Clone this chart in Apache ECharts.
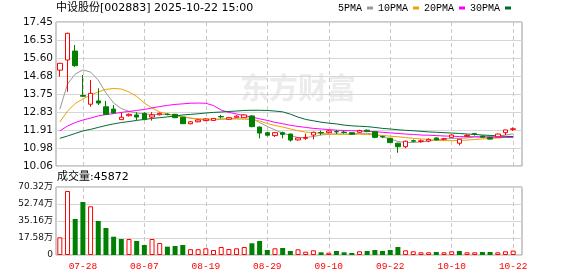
<!DOCTYPE html>
<html><head><meta charset="utf-8">
<script src="https://cdn.jsdelivr.net/npm/echarts@6/dist/echarts.min.js"></script>
<style>html,body{margin:0;padding:0;background:#fff}#c{width:578px;height:276px}</style>
</head><body><div id="c"></div>
<script>
const dates = ['07-23','07-24','07-25','07-28','07-29','07-30','07-31','08-01','08-04','08-05','08-06','08-07','08-08','08-11','08-12','08-13','08-14','08-15','08-18','08-19','08-20','08-21','08-22','08-25','08-26','08-27','08-28','08-29','09-01','09-02','09-03','09-04','09-05','09-08','09-09','09-10','09-11','09-12','09-15','09-16','09-17','09-18','09-19','09-22','09-23','09-24','09-25','09-26','09-29','09-30','10-09','10-10','10-13','10-14','10-15','10-16','10-17','10-20','10-21','10-22'];
const openP = [14.98,15.50,15.96,13.68,13.23,13.40,13.10,12.98,12.44,12.64,12.68,12.76,12.57,12.69,12.72,12.71,12.56,12.23,12.33,12.39,12.40,12.60,12.46,12.56,12.54,12.63,12.06,11.77,11.62,11.77,11.70,11.40,11.48,11.65,11.78,11.77,11.83,11.80,11.77,11.79,11.90,11.82,11.57,11.48,11.23,11.05,11.36,11.32,11.34,11.50,11.44,11.53,11.23,11.58,11.72,11.60,11.52,11.56,11.77,11.94];
const closeP = [15.33,16.87,15.21,13.64,13.79,13.29,12.71,12.78,12.56,12.71,12.57,12.44,12.68,12.76,12.70,12.54,12.23,12.33,12.42,12.47,12.50,12.58,12.54,12.62,12.68,12.08,11.75,11.64,11.77,11.68,11.39,11.50,11.52,11.79,11.76,11.86,11.81,11.78,11.69,11.88,11.84,11.53,11.55,11.26,11.05,11.33,11.33,11.35,11.43,11.40,11.45,11.65,11.43,11.63,11.70,11.54,11.44,11.70,11.91,11.97];
const lowP = [14.64,13.87,15.15,13.62,13.10,13.19,12.70,12.76,12.44,12.60,12.42,12.42,12.39,12.66,12.66,12.52,12.22,12.20,12.30,12.36,12.38,12.50,12.44,12.52,12.52,12.05,11.48,11.58,11.55,11.48,11.31,11.36,11.40,11.43,11.65,11.74,11.70,11.72,11.67,11.76,11.80,11.48,11.50,11.24,10.74,10.97,11.28,11.26,11.28,11.37,11.38,11.52,11.12,11.55,11.62,11.52,11.42,11.54,11.65,11.86];
const highP = [15.35,16.90,16.27,14.73,14.47,14.05,13.40,13.19,12.82,12.76,12.82,12.82,12.82,12.80,12.76,12.74,12.58,12.36,12.45,12.50,12.52,12.68,12.57,12.66,12.72,12.66,12.08,11.82,11.80,11.82,11.72,11.52,11.72,11.82,11.88,11.90,11.91,11.86,11.79,11.92,11.93,11.86,11.62,11.50,11.25,11.36,11.42,11.42,11.48,11.52,11.50,11.68,11.45,11.68,11.76,11.62,11.56,11.72,11.92,12.04];
const ma5 = [12.97,14.27,14.78,14.99,14.88,14.47,13.81,13.29,13.01,12.86,12.78,12.73,12.70,12.70,12.70,12.68,12.60,12.52,12.45,12.42,12.42,12.46,12.49,12.51,12.54,12.51,12.29,12.09,11.91,11.75,11.63,11.52,11.53,11.57,11.65,11.69,11.70,11.70,11.70,11.73,11.74,11.68,11.57,11.45,11.32,11.27,11.27,11.29,11.34,11.40,11.45,11.47,11.48,11.50,11.55,11.56,11.57,11.60,11.65,11.71];
const ma10 = [12.32,12.88,13.27,13.50,13.70,13.86,13.99,14.04,14.01,13.86,13.63,13.29,13.04,12.83,12.73,12.65,12.57,12.52,12.49,12.47,12.47,12.47,12.47,12.47,12.46,12.44,12.37,12.24,12.14,12.06,11.96,11.87,11.80,11.77,11.73,11.70,11.69,11.69,11.69,11.69,11.68,11.66,11.63,11.59,11.56,11.52,11.48,11.45,11.42,11.38,11.36,11.36,11.37,11.39,11.42,11.45,11.47,11.50,11.53,11.57];
const ma20 = [11.86,12.11,12.29,12.42,12.52,12.63,12.70,12.75,12.81,12.86,12.91,12.96,13.04,13.11,13.17,13.22,13.25,13.28,13.29,13.28,13.16,12.93,12.81,12.73,12.65,12.57,12.48,12.40,12.30,12.23,12.15,12.09,12.04,11.99,11.96,11.93,11.90,11.88,11.87,11.86,11.84,11.82,11.79,11.76,11.73,11.70,11.68,11.65,11.64,11.62,11.60,11.59,11.57,11.56,11.56,11.55,11.54,11.53,11.53,11.53];
const ma30 = [11.48,11.60,11.73,11.86,11.94,12.04,12.14,12.22,12.29,12.34,12.40,12.45,12.50,12.54,12.58,12.63,12.68,12.71,12.74,12.78,12.81,12.83,12.86,12.88,12.91,12.92,12.92,12.91,12.88,12.84,12.72,12.57,12.45,12.38,12.31,12.26,12.22,12.16,12.12,12.10,12.08,12.04,11.99,11.96,11.92,11.89,11.87,11.84,11.81,11.79,11.77,11.75,11.73,11.70,11.68,11.65,11.63,11.60,11.58,11.57];
const volumes = [183000,661800,372300,548100,503600,351600,279200,189300,165500,165500,144800,103400,165500,124100,86300,93100,103400,60000,60000,69300,51700,82700,62000,69300,82700,121000,144800,51700,69300,72400,41400,58900,34100,48600,27900,23800,41400,27900,20700,38300,41400,51700,41400,51700,82700,48600,38300,27900,27900,31000,27900,38300,41400,27900,27900,31000,31000,27900,38300,45872];
const volUp = [1,1,0,0,1,0,0,0,0,1,0,0,1,1,0,0,0,1,1,1,1,1,1,1,1,0,0,0,1,0,0,1,1,1,0,1,0,0,0,1,0,0,0,0,0,1,1,1,1,0,1,1,0,1,1,0,0,1,1,1];
const priceTicks = ['10.06','10.98','11.91','12.83','13.75','14.68','15.60','16.53','17.45'];
const volTicks = ['0','17.58万','35.16万','52.74万','70.32万'];
const dateLabels = ['07-28','08-07','08-19','08-29','09-10','09-22','10-10','10-22'];
const maNames = ['5PMA','10PMA','20PMA','30PMA'];
const titleText = '中设股份[002883] 2025-10-22 15:00';
const volTitle = '成交量:45872';

const RED = '#ff0000', GREEN = '#008000';
const maColors = ['#9a9a9a','#f0a000','#ff00ff','#006a35'];
const maData = [ma5, ma10, ma20, ma30];
const FONT = '"DejaVu Sans", "Noto Sans CJK SC", sans-serif';

const candleData = dates.map((d, i) => [openP[i], closeP[i], lowP[i], highP[i]]);
const volData = volumes.map((v, i) => ({
  value: v,
  itemStyle: volUp[i] ? {color: '#fff', borderColor: RED, borderWidth: 1} : {color: GREEN, borderColor: GREEN, borderWidth: 0}
}));
const vLines = dateLabels.map(d => ({xAxis: d}));
const markLineStyle = {
  silent: true, z: 1, symbol: ['none', 'none'], label: {show: false},
  lineStyle: {color: '#c8c8c8', type: [4, 3], width: 1}, emphasis: {disabled: true},
  animation: false, data: vLines
};

const chart = echarts.init(document.getElementById('c'), null, {renderer: 'canvas'});
chart.setOption({
  animation: false,
  backgroundColor: '#fff',
  title: [
    {text: titleText, left: 56, top: 3, padding: 0, textStyle: {fontSize: 11, fontWeight: 'normal', color: '#000', fontFamily: FONT}},
    {text: volTitle, left: 57, top: 172, padding: 0, textStyle: {fontSize: 11, fontWeight: 'normal', color: '#000', fontFamily: FONT}}
  ],
  legend: {
    data: maNames, left: 338, top: 3, padding: 0, align: 'right', icon: 'rect',
    itemWidth: 6, itemHeight: 3, itemGap: 5, selectedMode: false,
    textStyle: {fontFamily: '"Liberation Mono", monospace', fontSize: 10, color: '#000'}
  },
  graphic: [{
    type: 'text', left: 240, top: 73, z: -10, silent: true,
    style: {text: '东方财富', fill: '#ececec', font: 'bold 29px "Noto Sans CJK SC"'}
  }],
  grid: [
    {left: 56, top: 22, width: 466, height: 144, show: true, borderColor: '#999', borderWidth: 1, backgroundColor: 'transparent'},
    {left: 56, top: 22, width: 461, height: 144},
    {left: 56, top: 187, width: 466, height: 68, show: true, borderColor: '#999', borderWidth: 1, backgroundColor: 'transparent'},
    {left: 56, top: 187, width: 461, height: 68}
  ],
  xAxis: [
    {gridIndex: 0, type: 'value', min: 0, max: 1, show: false},
    {gridIndex: 1, type: 'category', data: dates, boundaryGap: true, show: false},
    {gridIndex: 2, type: 'value', min: 0, max: 1, show: false},
    {gridIndex: 3, type: 'category', data: dates, boundaryGap: true,
      axisLine: {show: false}, axisTick: {show: false}, splitLine: {show: false},
      axisLabel: {interval: (i, v) => dateLabels.includes(v), color: RED, fontSize: 9.5, margin: 6,
        fontFamily: '"Liberation Mono", monospace'}}
  ],
  yAxis: [
    {gridIndex: 0, type: 'value', min: 0, max: 8, interval: 1,
      axisLine: {show: false}, axisTick: {show: false},
      axisLabel: {formatter: v => priceTicks[v], margin: 3, fontSize: 10.5, color: '#111', fontFamily: FONT},
      splitLine: {lineStyle: {color: '#d6d6d6', width: 1}}},
    {gridIndex: 1, type: 'value', min: 10.06, max: 17.45, show: false},
    {gridIndex: 2, type: 'value', min: 0, max: 4, interval: 1,
      axisLine: {show: false}, axisTick: {show: false},
      axisLabel: {formatter: v => volTicks[v], margin: 3, fontSize: 9, color: '#111', fontFamily: FONT},
      splitLine: {lineStyle: {color: '#d6d6d6', width: 1}}},
    {gridIndex: 3, type: 'value', min: 0, max: 703200, show: false}
  ],
  series: [
    ...maNames.map((n, k) => ({
      name: n, type: 'line', xAxisIndex: 1, yAxisIndex: 1, data: maData[k],
      symbol: 'none', z: 3, color: maColors[k],
      lineStyle: {width: 1, color: maColors[k]}, emphasis: {disabled: true}
    })),
    {
      type: 'candlestick', xAxisIndex: 1, yAxisIndex: 1, data: candleData, barWidth: 5, z: 4,
      itemStyle: {color: '#fff', color0: GREEN, borderColor: RED, borderColor0: GREEN, borderWidth: 1},
      emphasis: {disabled: true},
      markLine: markLineStyle
    },
    {
      type: 'bar', xAxisIndex: 3, yAxisIndex: 3, data: volData, barWidth: 5, z: 4,
      emphasis: {disabled: true},
      markLine: markLineStyle
    }
  ]
});
</script></body></html>
